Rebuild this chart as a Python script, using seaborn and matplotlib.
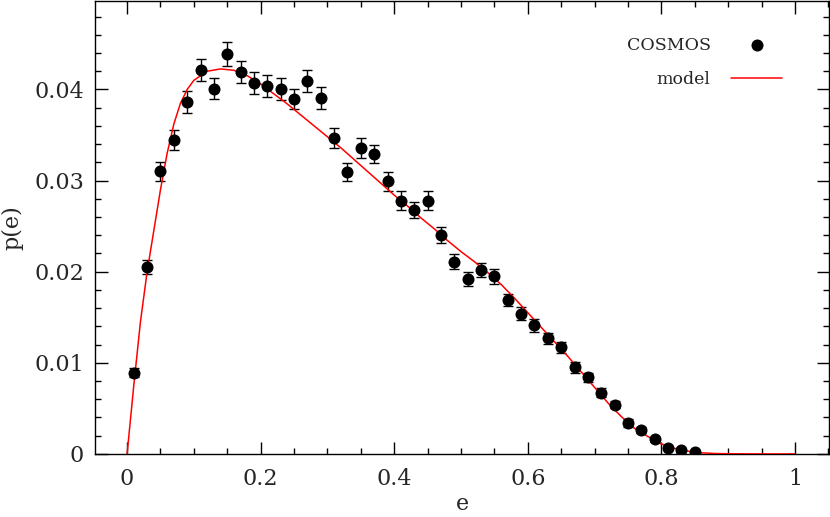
import matplotlib
matplotlib.use('Agg')
import matplotlib.pyplot as plt
from matplotlib.ticker import MultipleLocator
import seaborn as sns
import pandas as pd

# COSMOS ellipticity distribution
e_obs = [0.01, 0.03, 0.05, 0.07, 0.09, 0.11, 0.13, 0.15, 0.17, 0.19,
         0.21, 0.23, 0.25, 0.27, 0.29, 0.31, 0.33, 0.35, 0.37, 0.39,
         0.41, 0.43, 0.45, 0.47, 0.49, 0.51, 0.53, 0.55, 0.57, 0.59,
         0.61, 0.63, 0.65, 0.67, 0.69, 0.71, 0.73, 0.75, 0.77, 0.79,
         0.81, 0.83, 0.85]
p_obs = [0.0089, 0.0205, 0.0310, 0.0344, 0.0386, 0.0421, 0.0401, 0.0439, 0.0419, 0.0407,
         0.0404, 0.0400, 0.0389, 0.0409, 0.0391, 0.0347, 0.0309, 0.0336, 0.0329, 0.0299,
         0.0278, 0.0268, 0.0278, 0.0240, 0.0211, 0.0192, 0.0202, 0.0195, 0.0169, 0.0154,
         0.0141, 0.0127, 0.0117, 0.0095, 0.0084, 0.0067, 0.0054, 0.0034, 0.0026, 0.0016,
         0.0007, 0.0004, 0.0002]
p_err = [0.0005, 0.0008, 0.0010, 0.0011, 0.0012, 0.0012, 0.0012, 0.0013, 0.0012, 0.0012,
         0.0012, 0.0012, 0.0011, 0.0012, 0.0012, 0.0011, 0.0010, 0.0011, 0.0010, 0.0010,
         0.0010, 0.0009, 0.0010, 0.0009, 0.0008, 0.0008, 0.0008, 0.0008, 0.0007, 0.0007,
         0.0007, 0.0006, 0.0006, 0.0006, 0.0005, 0.0005, 0.0004, 0.0004, 0.0003, 0.0003,
         0.0002, 0.0002, 0.0001]

# model curve
e_mod = [0.0, 0.01, 0.02, 0.03, 0.04, 0.05, 0.06, 0.07, 0.08, 0.09,
         0.10, 0.12, 0.14, 0.16, 0.18, 0.20, 0.22, 0.24, 0.26, 0.28,
         0.30, 0.32, 0.34, 0.36, 0.38, 0.40, 0.42, 0.44, 0.46, 0.48,
         0.50, 0.52, 0.54, 0.56, 0.58, 0.60, 0.62, 0.64, 0.66, 0.68,
         0.70, 0.72, 0.74, 0.76, 0.78, 0.80, 0.82, 0.84, 0.86, 0.88,
         0.90, 0.95, 1.00]
p_mod = [0.0, 0.0075, 0.0145, 0.0200, 0.0245, 0.0290, 0.0330, 0.0362, 0.0385, 0.0400,
         0.0410, 0.0420, 0.04225, 0.0421, 0.0415, 0.0406, 0.0395, 0.0384, 0.0372, 0.0360,
         0.0348, 0.0336, 0.0323, 0.0310, 0.0297, 0.0284, 0.0272, 0.0259, 0.0247, 0.0234,
         0.0222, 0.0211, 0.0199, 0.0186, 0.0171, 0.0155, 0.0139, 0.0123, 0.0107, 0.0090,
         0.0073, 0.0056, 0.0041, 0.0028, 0.0019, 0.0011, 0.0006, 0.0003, 0.00012, 0.00005,
         0.00002, 0.0, 0.0]

obs = pd.DataFrame({'e': e_obs, 'p': p_obs, 'err': p_err})
mod = pd.DataFrame({'e': e_mod, 'p': p_mod})

sns.set_style('ticks')
plt.rcParams['font.family'] = ['DejaVu Serif']

fig = plt.figure(figsize=(8.3, 5.17), dpi=100)
ax = fig.add_axes([0.1145, 0.122, 0.8843, 0.876])

ax.errorbar(obs['e'], obs['p'], yerr=obs['err'], fmt='none', ecolor='black',
            elinewidth=1.0, capsize=3.5, capthick=1.0, zorder=2)
sns.lineplot(data=mod, x='e', y='p', color='red', linewidth=1.1, ax=ax,
             label='model', zorder=3)
sns.scatterplot(data=obs, x='e', y='p', color='black', s=75, edgecolor='black',
                linewidth=0, ax=ax, label='COSMOS', zorder=4)

ax.set_xlim(-0.048, 1.051)
ax.set_ylim(0, 0.0497)
ax.xaxis.set_major_locator(MultipleLocator(0.2))
ax.xaxis.set_minor_locator(MultipleLocator(0.05))
ax.yaxis.set_major_locator(MultipleLocator(0.01))
ax.yaxis.set_minor_locator(MultipleLocator(0.002))
ax.xaxis.set_major_formatter(plt.FuncFormatter(lambda v, _: f'{v:g}'))
ax.yaxis.set_major_formatter(plt.FuncFormatter(lambda v, _: f'{v:g}'))
ax.tick_params(which='both', direction='in', top=True, right=True, labelsize=16,
               color='black', width=1.0)
ax.tick_params(axis='x', pad=10)
ax.tick_params(axis='y', pad=8)
ax.tick_params(which='major', length=9)
ax.tick_params(which='minor', length=4.5)
for s in ax.spines.values():
    s.set_linewidth(1.0)
    s.set_color('black')

ax.set_xlabel('e', fontsize=16, labelpad=2)
ax.set_ylabel('p(e)', fontsize=16, labelpad=8)

handles, labels = ax.get_legend_handles_labels()
order = [labels.index('COSMOS'), labels.index('model')]
ax.legend([handles[i] for i in order], [labels[i] for i in order],
          loc='upper right', frameon=False, markerfirst=False, fontsize=12.5,
          handlelength=2.9, handletextpad=1.2, bbox_to_anchor=(0.957, 0.955),
          labelspacing=1.0)

fig.savefig('out.png', dpi=100)
